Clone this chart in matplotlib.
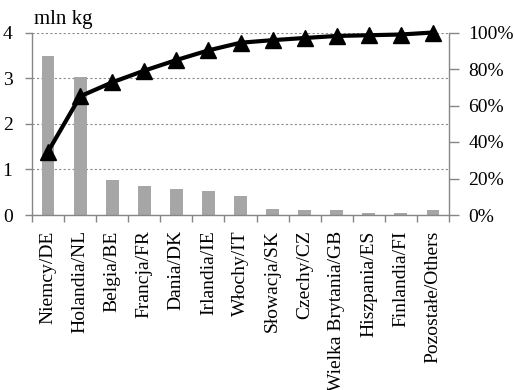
import numpy as np
import matplotlib
matplotlib.use("Agg")
import matplotlib.pyplot as plt
from matplotlib import font_manager

categories = ["Niemcy/DE", "Holandia/NL", "Belgia/BE", "Francja/FR", "Dania/DK",
              "Irlandia/IE", "Włochy/IT", "Słowacja/SK", "Czechy/CZ",
              "Wielka Brytania/GB", "Hiszpania/ES", "Finlandia/FI", "Pozostałe/Others"]
values = [3.48, 3.03, 0.77, 0.64, 0.58, 0.53, 0.42, 0.14, 0.12, 0.11, 0.04, 0.04, 0.12]
cumulative_pct = [34.7, 65.0, 72.7, 79.1, 84.9, 90.2, 94.4, 95.8, 97.0, 98.1, 98.5, 98.9, 100.0]
left_ticks = [0, 1, 2, 3, 4]
right_ticks = [0, 20, 40, 60, 80, 100]

fam = 'DejaVu Serif'
for f in font_manager.findSystemFonts():
    if 'LiberationSerif-Regular' in f:
        font_manager.fontManager.addfont(f)
        fam = font_manager.FontProperties(fname=f).get_name()
        break
plt.rcParams['font.family'] = [fam, 'DejaVu Serif']
FS = 14

fig = plt.figure(figsize=(5.14, 3.90), dpi=100)
ax = fig.add_axes([32/514, 1-215/390, (449-32)/514, (215-32.5)/390])

x = np.arange(len(categories))
ax.bar(x, values, width=0.4, color="#A6A6A6", zorder=2)
ax.set_xlim(-0.5, len(categories)-0.5)
ax.set_ylim(0, 4)
ax.set_yticks(left_ticks)
ax.set_yticklabels([str(t) for t in left_ticks], fontsize=FS)
ax.yaxis.grid(True, linestyle=(0, (2, 2)), color="#8C8C8C", linewidth=0.8, zorder=0)
ax.set_axisbelow(True)

ax.set_xticks(np.arange(-0.5, len(categories), 1.0))
ax.set_xticklabels([])
ax.set_xticks(x, minor=True)
ax.set_xticklabels(categories, minor=True, rotation=90, fontsize=FS)
ax.tick_params(axis='x', which='minor', length=0, pad=11)
ax.tick_params(axis='x', which='major', length=5, color="#868686", width=1)
ax.tick_params(axis='y', length=5, color="#868686", width=1, pad=9)

for s in ["top", "right"]:
    ax.spines[s].set_visible(False)
for s in ["left", "bottom"]:
    ax.spines[s].set_color("#868686")
    ax.spines[s].set_linewidth(1)

ax2 = ax.twinx()
ax2.plot(x, cumulative_pct, color="black", linewidth=3, marker="^",
         markersize=11, markerfacecolor="black", zorder=5, clip_on=False)
ax2.set_ylim(0, 100)
ax2.set_yticks(right_ticks)
ax2.set_yticklabels([f"{t}%" for t in right_ticks], fontsize=FS)
ax2.tick_params(axis='y', length=7, color="#868686", width=1, pad=7)
for s in ["top", "left", "bottom"]:
    ax2.spines[s].set_visible(False)
ax2.spines["right"].set_color("#868686")
ax2.spines["right"].set_linewidth(1)

fig.text(34/514, 1-24/390, "mln kg", fontsize=15, va="baseline", ha="left")

fig.savefig("out.png", dpi=100)
